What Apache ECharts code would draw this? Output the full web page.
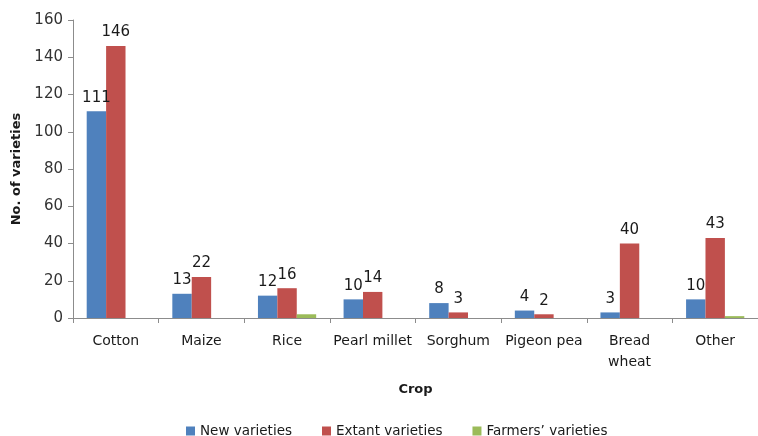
<!DOCTYPE html>
<html>
<head>
<meta charset="utf-8">
<script src="https://cdn.jsdelivr.net/npm/echarts@6/dist/echarts.min.js"></script>
<style>
  html, body { margin: 0; padding: 0; background: #fff; }
  #chart { width: 758px; height: 436px; }
</style>
</head>
<body>
<div id="chart"></div>
<script>
// Crop categories and variety counts
const crops = ['Cotton', 'Maize', 'Rice', 'Pearl millet', 'Sorghum', 'Pigeon pea', 'Bread\nwheat', 'Other'];
const newVarieties = [111, 13, 12, 10, 8, 4, 3, 10];
const extantVarieties = [146, 22, 16, 14, 3, 2, 40, 43];
const farmersVarieties = [0, 0, 2, 0, 0, 0, 0, 1];
const yTicks = { min: 0, max: 160, interval: 20 };

const font = 'DejaVu Sans, Verdana, sans-serif';
const valueLabel = {
  show: true, position: 'top', distance: 6,
  color: '#1a1a1a', fontSize: 15, fontFamily: font
};

const chart = echarts.init(document.getElementById('chart'));
chart.setOption({
  animation: false,
  textStyle: { fontFamily: font },
  grid: { left: 73, width: 688, top: 20, bottom: 118 },
  legend: {
    top: 419, left: 181,
    itemWidth: 9, itemHeight: 9, itemGap: 30,
    icon: 'rect',
    textStyle: { fontSize: 13.5, color: '#1a1a1a', fontFamily: font }
  },
  xAxis: {
    type: 'category', data: crops,
    name: 'Crop', nameLocation: 'middle', nameGap: 65,
    nameTextStyle: { fontWeight: 'bold', fontSize: 13, color: '#1a1a1a' },
    axisLine: { lineStyle: { color: '#8c8c8c' } },
    axisTick: { show: true, interval: 0, length: 5, lineStyle: { color: '#8c8c8c' } },
    axisLabel: { interval: 0, fontSize: 14, color: '#1a1a1a', margin: 13, lineHeight: 21 }
  },
  yAxis: {
    type: 'value', min: yTicks.min, max: yTicks.max, interval: yTicks.interval,
    name: 'No. of varieties', nameLocation: 'middle', nameGap: 48, nameRotate: 90,
    nameTextStyle: { fontWeight: 'bold', fontSize: 13, color: '#1a1a1a' },
    axisLine: { show: true, lineStyle: { color: '#8c8c8c' } },
    axisTick: { show: true, length: 5, lineStyle: { color: '#8c8c8c' } },
    axisLabel: { fontSize: 15, color: '#333', margin: 10 },
    splitLine: { show: false }
  },
  series: [
    { name: 'New varieties', type: 'bar', data: newVarieties,
      itemStyle: { color: '#4F81BD' }, barGap: '0%', barCategoryGap: '32%',
      label: valueLabel },
    { name: 'Extant varieties', type: 'bar', data: extantVarieties,
      itemStyle: { color: '#C0504D' }, label: valueLabel },
    { name: 'Farmers\u2019 varieties', type: 'bar', data: farmersVarieties,
      itemStyle: { color: '#9BBB59' } }
  ]
});
</script>
</body>
</html>
